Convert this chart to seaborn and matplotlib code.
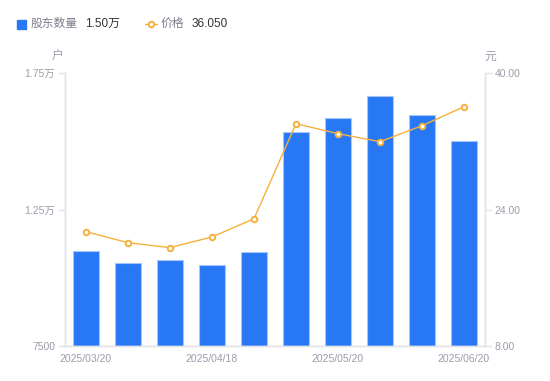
import matplotlib
matplotlib.use("Agg")
import matplotlib.pyplot as plt
from matplotlib.lines import Line2D
from matplotlib.patches import Rectangle
import numpy as np
import pandas as pd
import seaborn as sns

# data
dates = ["2025/03/20", "2025/03/31", "2025/04/10", "2025/04/18", "2025/04/30",
         "2025/05/09", "2025/05/20", "2025/05/30", "2025/06/10", "2025/06/20"]
holders = [10980, 10540, 10640, 10455, 10943, 15350, 15840, 16670, 15960, 15000]
price = [21.40, 20.11, 19.53, 20.78, 22.92, 34.06, 32.89, 31.95, 33.82, 36.05]
shown_dates = ["2025/03/20", "2025/04/18", "2025/05/20", "2025/06/20"]
left_ticks = [7500, 12500, 17500]
left_labels = ["7500", "1.25万", "1.75万"]
right_ticks = [8, 24, 40]
right_labels = ["8.00", "24.00", "40.00"]

df = pd.DataFrame({"日期": dates, "股东数量": holders, "价格": price})

BLUE = "#2878f5"
ORANGE = "#f6b13c"
GRAY = "#9a9dab"
LINE = "#e3e4e8"

sns.set_theme(style="white")
plt.rcParams["font.family"] = ["Liberation Sans", "Noto Sans CJK SC", "DejaVu Sans"]

fig = plt.figure(figsize=(5.5, 3.81), dpi=100)
ax = fig.add_axes([65 / 550, 1 - 346 / 381, 420 / 550, 273 / 381])

sns.barplot(data=df, x="日期", y="股东数量", ax=ax, color=BLUE, saturation=1,
            width=0.6, edgecolor="#a4c6fa", linewidth=0.8)
ax.set_ylim(7500, 17500)
ax.set_xlim(-0.5, len(dates) - 0.5)

ax2 = ax.twinx()
sns.pointplot(data=df, x="日期", y="价格", ax=ax2, color=ORANGE, errorbar=None,
              markers="o", linestyles="-", linewidth=1, markersize=4,
              markerfacecolor="white", markeredgecolor=ORANGE, markeredgewidth=1.4)
ax2.set_ylim(8, 40)
ax2.set_xlim(-0.5, len(dates) - 0.5)

pos = [dates.index(d) for d in shown_dates]
ax.set_xticks(pos)
ax.set_xticklabels(shown_dates)
ax.set_yticks(left_ticks)
ax.set_yticklabels(left_labels)
ax2.set_yticks(right_ticks)
ax2.set_yticklabels(right_labels)

for a in (ax, ax2):
    a.set_xlabel("")
    a.set_ylabel("")
    for s in a.spines.values():
        s.set_color(LINE)
        s.set_linewidth(1)
    a.spines["top"].set_visible(False)
    a.grid(False)
ax.tick_params(axis="y", colors=LINE, labelcolor=GRAY, labelsize=7.5, length=5,
               width=1, pad=2, left=True)
ax2.tick_params(axis="y", colors=LINE, labelcolor=GRAY, labelsize=7.5, length=5,
                width=1, pad=2, right=True)
ax.tick_params(axis="x", labelcolor=GRAY, labelsize=7.5, length=0, pad=6)

fig.text(58 / 550, 1 - 57 / 381, "户", color=GRAY, fontsize=8.5, ha="center", va="center")
fig.text(490 / 550, 1 - 57 / 381, "元", color=GRAY, fontsize=8.5, ha="center", va="center")

# legend
ly = 1 - 24 / 381
fig.patches.append(Rectangle((17 / 550, 1 - 28.5 / 381), 9 / 550, 9 / 381,
                             transform=fig.transFigure, color=BLUE, figure=fig))
fig.text(31 / 550, ly, "股东数量", color="#7c7f8c", fontsize=8.5, va="center")
fig.text(85 / 550, ly, "1.50万", color="#333333", fontsize=8.5, va="center")
fig.lines.append(Line2D([145 / 550, 157 / 550], [ly, ly], transform=fig.transFigure,
                        color=ORANGE, linewidth=1, figure=fig))
fig.lines.append(Line2D([151 / 550], [ly], transform=fig.transFigure, color=ORANGE,
                        marker="o", markersize=4, markerfacecolor="white",
                        markeredgewidth=1.4, linestyle="none", figure=fig))
fig.text(161 / 550, ly, "价格", color="#7c7f8c", fontsize=8.5, va="center")
fig.text(192 / 550, ly, "36.050", color="#333333", fontsize=8.5, va="center")

fig.savefig("out.png", dpi=100)
